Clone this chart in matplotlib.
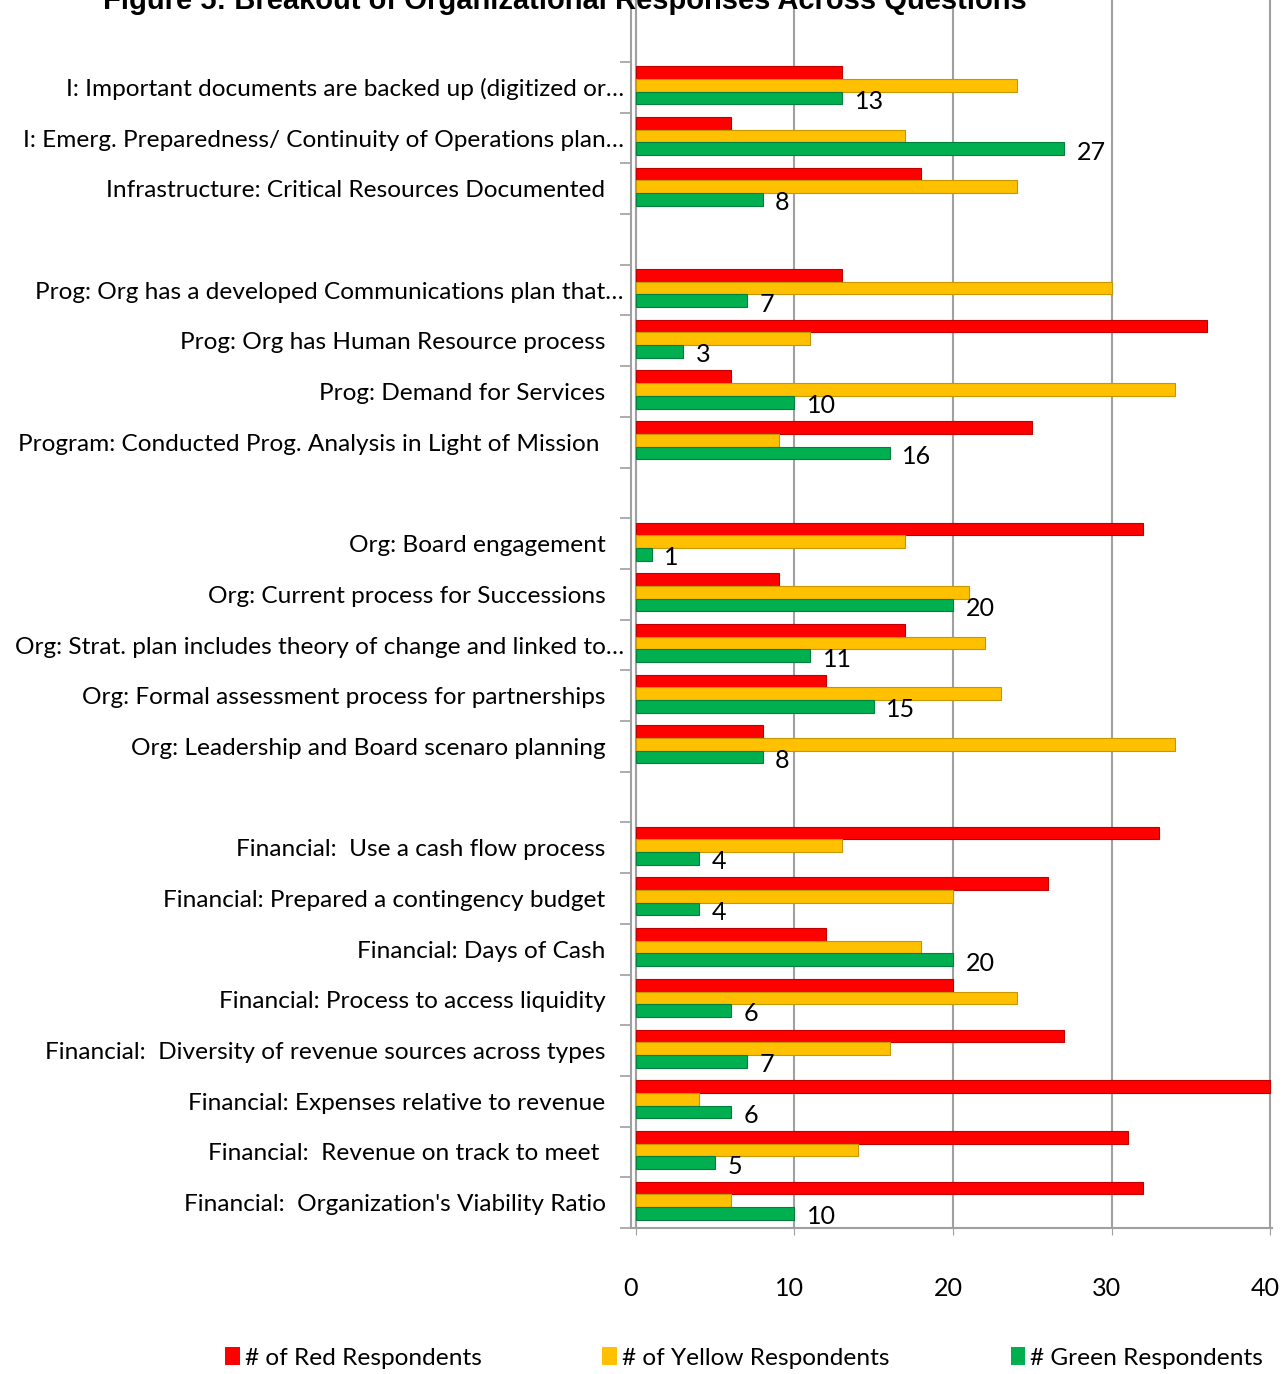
import numpy as np
import matplotlib
matplotlib.use("Agg")
import matplotlib.pyplot as plt
from matplotlib.patches import Patch
from matplotlib.transforms import ScaledTranslation

plt.rcParams["font.family"] = ["Lato", "DejaVu Sans"]

# questions, top to bottom; sections are separated by an empty row
questions = [
    "I: Important documents are backed up (digitized or…",
    "I: Emerg. Preparedness/ Continuity of Operations plan…",
    "Infrastructure: Critical Resources Documented",
    "Prog: Org has a developed Communications plan that…",
    "Prog: Org has Human Resource process",
    "Prog: Demand for Services",
    "Program: Conducted Prog. Analysis in Light of Mission ",
    "Org: Board engagement",
    "Org: Current process for Successions",
    "Org: Strat. plan includes theory of change and linked to…",
    "Org: Formal assessment process for partnerships",
    "Org: Leadership and Board scenaro planning",
    "Financial:  Use a cash flow process",
    "Financial: Prepared a contingency budget",
    "Financial: Days of Cash",
    "Financial: Process to access liquidity",
    "Financial:  Diversity of revenue sources across types",
    "Financial: Expenses relative to revenue",
    "Financial:  Revenue on track to meet ",
    "Financial:  Organization's Viability Ratio",
]
section_sizes = [3, 4, 5, 8]

red = [13, 6, 18, 13, 36, 6, 25, 32, 9, 17, 12, 8, 33, 26, 12, 20, 27, 40, 31, 32]
yellow = [24, 17, 24, 30, 11, 34, 9, 17, 21, 22, 23, 34, 13, 20, 18, 24, 16, 4, 14, 6]
green = [13, 27, 8, 7, 3, 10, 16, 1, 20, 11, 15, 8, 4, 4, 20, 6, 7, 6, 5, 10]

series_names = ["# of Red Respondents", "# of Yellow Respondents", "# Green Respondents"]
colors = ["#FF0000", "#FFC000", "#00B050"]
edges = ["#C00000", "#C89600", "#00803C"]

# row index of every question, leaving one blank row between sections
rows = []
r = 0
for n in section_sizes:
    rows.extend(range(r, r + n))
    r += n + 1
rows = np.array(rows, dtype=float)
n_slots = r - 1

W, H = 1282, 1374
fs = 17.6
fig = plt.figure(figsize=(W / 100, H / 100), dpi=100)
ax = fig.add_axes([631 / W, (H - 1228) / H, 641 / W, 1228 / H])

h = 0.25
for vals, off, c, ec in zip([red, yellow, green], [-h, 0, h], colors, edges):
    ax.barh(rows + off - 0.04, vals, height=h, color=c, edgecolor=ec, linewidth=0.8, zorder=3)

for y, v in zip(rows, green):
    ax.annotate(str(v), (v, y + h), xytext=(9, -1), textcoords="offset points",
                ha="left", va="center", fontsize=fs + 0.5, zorder=4)

ax.set_xlim(-0.3, 40.1)
ax.set_ylim(n_slots - 0.5, -0.5 - 62 / 50.7)

# category labels
for y, q in zip(rows, questions):
    x = -0.75 if q.endswith("…") else -1.9
    ax.text(x, y + 0.04, q, ha="right", va="center", fontsize=fs, clip_on=False)

ax.set_xticks([0, 10, 20, 30, 40])
ax.tick_params(axis="x", length=5, color="#A0A0A0", pad=30, labelsize=fs + 0.5)
shift = ScaledTranslation(-5 / 100, 0, fig.dpi_scale_trans)
for lab in ax.get_xticklabels():
    lab.set_transform(lab.get_transform() + shift)
ax.set_yticks(np.arange(-0.5, n_slots, 1.0))
ax.set_yticklabels([])
ax.tick_params(axis="y", length=8, color="#A0A0A0", width=1.2)
ax.xaxis.grid(True, color="#A0A0A0", linewidth=1.5, zorder=0)
ax.axvline(0, color="#A0A0A0", linewidth=1.5, zorder=1)
for side in ["top", "right"]:
    ax.spines[side].set_visible(False)
for side in ["left", "bottom"]:
    ax.spines[side].set_color("#A0A0A0")
    ax.spines[side].set_linewidth(1.5)

fig.text(565 / W, 1 - 9 / H, "Figure 5: Breakout of Organizational Responses Across Questions",
         ha="center", va="baseline", fontsize=21, fontweight="bold",
         family=["Liberation Sans", "DejaVu Sans"])

handles = [Patch(facecolor=c, edgecolor="none") for c in colors]
fig.legend(handles, series_names, loc="center", bbox_to_anchor=(744 / W, 16 / H),
           ncol=3, frameon=False, fontsize=fs, handlelength=0.6, handleheight=0.7,
           handletextpad=0.2, columnspacing=4.95)

fig.savefig("out.png", dpi=100)
